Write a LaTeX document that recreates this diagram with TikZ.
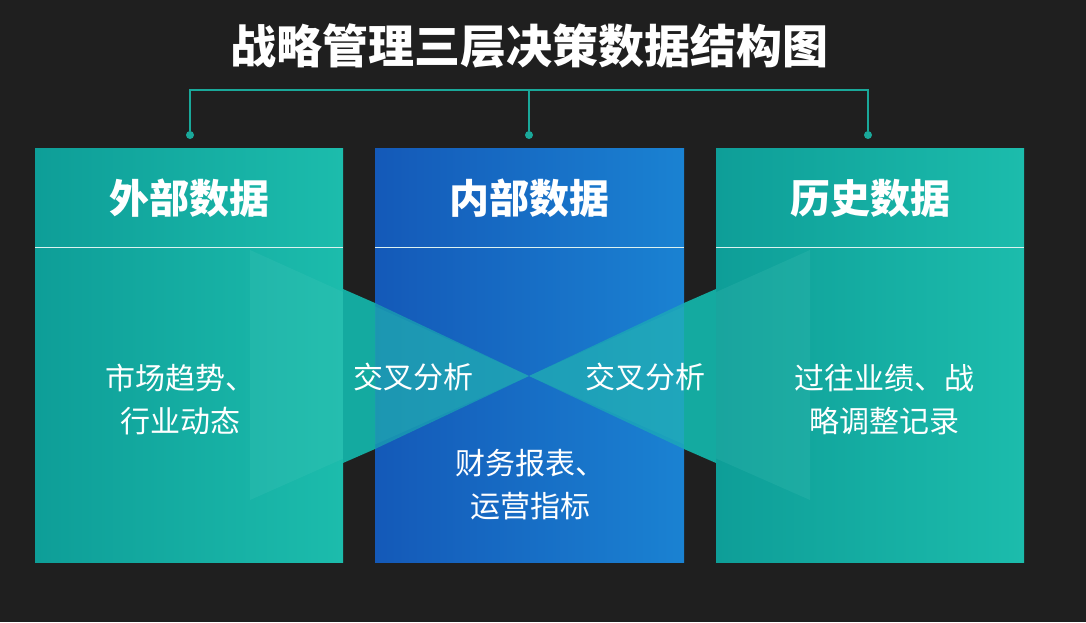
\documentclass[tikz,border=0pt]{standalone}
\usepackage{fontspec}
\setmainfont{Noto Sans CJK SC}
\usetikzlibrary{shadings}
\definecolor{bg}{HTML}{1F1F1F}
\definecolor{tealA}{HTML}{0E9E98}
\definecolor{tealB}{HTML}{1CBCAC}
\definecolor{blueA}{HTML}{1459B8}
\definecolor{blueB}{HTML}{1A82D2}
\definecolor{line}{HTML}{1AA89A}
\tikzset{
  tbox/.style={left color=tealA,right color=tealB,draw=none},
  bbox/.style={left color=blueA,right color=blueB,draw=none},
  head/.style={text=white,font=\bfseries\fontsize{40}{46}\selectfont},
  body/.style={text=white,font=\fontsize{30}{43}\selectfont,align=center},
  dot/.style={circle,fill=line,inner sep=0pt,minimum size=8pt},
}
\begin{document}
\begin{tikzpicture}[x=1pt,y=-1pt]
\fill[bg] (0,0) rectangle (1086,622);
\useasboundingbox (0,0) rectangle (1086,622);
\node[text=white,font=\bfseries\fontsize{46}{52}\selectfont] (title) at (529,46) {战略管理三层决策数据结构图};
% boxes
\fill[tbox] (35,148) rectangle (343,562);
\fill[bbox] (375,148) rectangle (684,562);
\fill[tbox] (716,148) rectangle (1024,562);
\foreach \a/\b in {35/343,375/684,716/1024}
  \draw[white!85!line,line width=1pt] (\a,247) -- (\b,247);
% cross bands
\coordinate (cx) at (529,376);
\fill[tealB!70!white,opacity=0.14] (250,250) -- (cx) -- (250,500) -- cycle;
\fill[tealB!70!white,opacity=0.14] (810,250) -- (cx) -- (810,500) -- cycle;
\fill[tealA!60!tealB] (343,289) -- (375,303) -- (375,449) -- (343,463) -- cycle;
\fill[tealA!60!tealB] (716,289) -- (684,303) -- (684,449) -- (716,463) -- cycle;
\fill[tealB,opacity=0.55] (375,303) -- (cx) -- (375,449) -- cycle;
\fill[tealB,opacity=0.55] (684,303) -- (cx) -- (684,449) -- cycle;
% bracket
\node[dot] (d1) at (190,135) {};
\node[dot] (d2) at (529,135) {};
\node[dot] (d3) at (868,135) {};
\coordinate (t1) at (190,90);
\coordinate (t3) at (868,90);
\coordinate (t2) at (529,90);
\draw[line,line width=1.5pt] (d1) -- (t1) -- (t3) -- (d3);
\draw[line,line width=1.5pt] (t2) -- (d2);
% headers
\node[head] (h1) at (189,198) {外部数据};
\node[head] (h2) at (529,198) {内部数据};
\node[head] (h3) at (870,198) {历史数据};
% bodies
\node[body] (b1) at (180,400) {市场趋势、\\行业动态};
\node[body] (b2) at (530,485) {财务报表、\\运营指标};
\node[body] (b3) at (884,400) {过往业绩、战\\略调整记录};
\node[body] (c1) at (413,377) {交叉分析};
\node[body] (c2) at (645,377) {交叉分析};
\end{tikzpicture}
\end{document}
